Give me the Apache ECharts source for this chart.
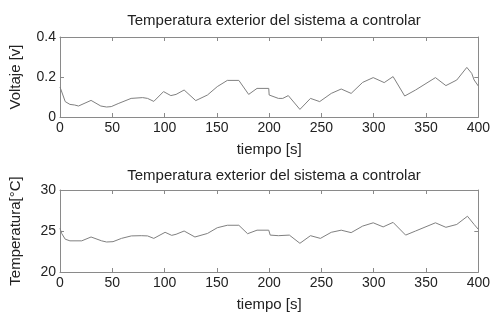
<!DOCTYPE html>
<html>
<head>
<meta charset="utf-8">
<script src="https://cdn.jsdelivr.net/npm/echarts@6/dist/echarts.min.js"></script>
<style>
  html, body { margin: 0; padding: 0; background: #fff; }
  #main { width: 493px; height: 319px; }
</style>
</head>
<body>
<div id="main"></div>
<script>
var myChart = echarts.init(document.getElementById('main'));

// tiempo [s] y voltaje [v] (grafica superior)
var tiempoV = [0, 5, 9.5, 14, 17.7, 29.7, 39, 44.5, 49, 55.6, 68, 79, 83.7, 89.7, 99, 106, 111, 118.7, 129.8, 141, 150.4, 160, 171, 180.4, 188.4, 199.6, 200, 208.8, 213, 218.3, 229.4, 239.5, 248.3, 259.4, 268.9, 278.4, 289.4, 299.5, 310, 318.5, 329.6, 340, 359, 369, 379.4, 389, 393.7, 396, 400]
var voltaje = [0.15, 0.077, 0.063, 0.06, 0.055, 0.083, 0.055, 0.05, 0.052, 0.067, 0.093, 0.097, 0.093, 0.078, 0.127, 0.107, 0.113, 0.135, 0.082, 0.11, 0.152, 0.183, 0.183, 0.113, 0.143, 0.143, 0.11, 0.093, 0.093, 0.107, 0.038, 0.093, 0.077, 0.118, 0.14, 0.118, 0.173, 0.197, 0.172, 0.202, 0.105, 0.135, 0.197, 0.157, 0.185, 0.248, 0.218, 0.185, 0.155]

// tiempo [s] y temperatura [°C] (grafica inferior)
var tiempoT = [0, 1.6, 5, 9.5, 20.8, 29.7, 39.8, 44.5, 50.7, 58.8, 68.2, 77.7, 83.7, 89.7, 100.5, 106.8, 111, 118.7, 129, 141, 150.4, 160, 171, 179.4, 188.4, 199.6, 201, 208.8, 219.3, 229.4, 239.5, 249, 259.4, 268.9, 278.4, 289.4, 299.5, 309, 318.5, 330.5, 340, 359, 369, 379.4, 389.6, 396, 400]
var temperatura = [25.33, 24.7, 24.0, 23.8, 23.8, 24.27, 23.8, 23.66, 23.7, 24.1, 24.4, 24.43, 24.4, 24.1, 24.84, 24.47, 24.6, 25.0, 24.27, 24.7, 25.4, 25.7, 25.7, 24.67, 25.1, 25.1, 24.5, 24.43, 24.5, 23.5, 24.43, 24.1, 24.84, 25.1, 24.8, 25.6, 26.0, 25.5, 26.05, 24.5, 25.0, 26.0, 25.45, 25.8, 26.8, 25.8, 25.2]

var ticksV = [0, 0.2, 0.4]
var ticksT = [20, 25, 30]

var titulo = 'Temperatura exterior del sistema a controlar'
var fuente = 'Liberation Sans, Arial, sans-serif'
var gris = '#8a8a8a'
var texto = '#222'

function zip(xs, ys) {
    var out = []
    xs.forEach(function (x, i) { out.push([x, ys[i]]) })
    return out
}

function ejeX(grid, pos, conNombre) {
    return {
        type: 'value', gridIndex: grid, position: pos,
        min: 0, max: 400, interval: 50,
        name: conNombre ? 'tiempo [s]' : '',
        nameLocation: 'middle', nameGap: 25,
        nameTextStyle: { color: texto, fontSize: 15, fontFamily: fuente },
        axisLine: { show: true, onZero: false, lineStyle: { color: gris, width: 1 } },
        axisTick: { show: true, inside: true, length: 4, lineStyle: { color: gris } },
        axisLabel: { show: conNombre, color: texto, fontSize: 14, fontFamily: fuente, margin: 4 },
        splitLine: { show: false }
    }
}

function ejeY(grid, pos, nombre, ticks) {
    return {
        type: 'value', gridIndex: grid, position: pos,
        min: ticks[0], max: ticks[ticks.length - 1], interval: ticks[1] - ticks[0],
        name: nombre, nameLocation: 'middle', nameGap: 37,
        nameTextStyle: { color: texto, fontSize: 15, fontFamily: fuente },
        axisLine: { show: true, onZero: false, lineStyle: { color: gris, width: 1 } },
        axisTick: { show: true, inside: true, length: 4, lineStyle: { color: gris } },
        axisLabel: { show: nombre !== '', color: texto, fontSize: 14, fontFamily: fuente, margin: 4 },
        splitLine: { show: false }
    }
}

var option = {
    animation: false,
    backgroundColor: '#fff',
    title: [
        { text: titulo, left: 269, top: 8, textAlign: 'center',
          textStyle: { color: texto, fontSize: 15, fontWeight: 'normal', fontFamily: fuente } },
        { text: titulo, left: 269, top: 163, textAlign: 'center',
          textStyle: { color: texto, fontSize: 15, fontWeight: 'normal', fontFamily: fuente } }
    ],
    grid: [
        { left: 58, right: 13, top: 37, height: 80 },
        { left: 58, right: 13, top: 190, height: 82 }
    ],
    xAxis: [
        ejeX(0, 'bottom', true), ejeX(0, 'top', false),
        ejeX(1, 'bottom', true), ejeX(1, 'top', false)
    ],
    yAxis: [
        ejeY(0, 'left', 'Voltaje [v]', ticksV), ejeY(0, 'right', '', ticksV),
        ejeY(1, 'left', 'Temperatura[°C]', ticksT), ejeY(1, 'right', '', ticksT)
    ],
    series: [
        { type: 'line', xAxisIndex: 0, yAxisIndex: 0, data: zip(tiempoV, voltaje),
          showSymbol: false, lineStyle: { color: '#808080', width: 1 } },
        { type: 'line', xAxisIndex: 2, yAxisIndex: 2, data: zip(tiempoT, temperatura),
          showSymbol: false, lineStyle: { color: '#808080', width: 1 } }
    ]
};
myChart.setOption(option);
</script>
</body>
</html>
